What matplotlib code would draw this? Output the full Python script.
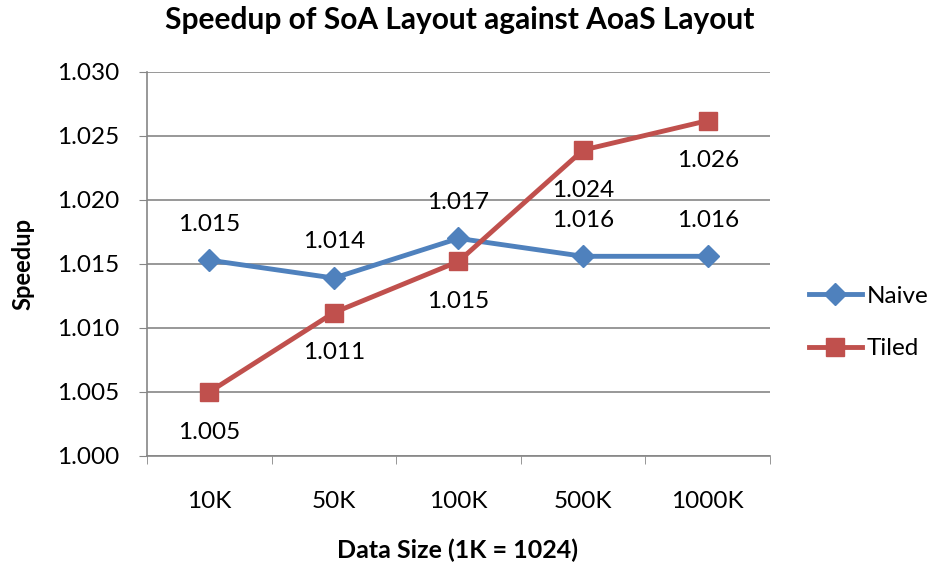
import matplotlib
matplotlib.use("Agg")
import matplotlib.pyplot as plt

plt.rcParams['font.family'] = ['Lato', 'DejaVu Sans']

sizes = ["10K", "50K", "100K", "500K", "1000K"]
naive = [1.0153, 1.0139, 1.0170, 1.0156, 1.0156]
tiled = [1.0050, 1.0112, 1.0152, 1.0239, 1.0262]
y_ticks = [1.000, 1.005, 1.010, 1.015, 1.020, 1.025, 1.030]

blue = "#4F81BD"
red = "#C0504D"
grid_col = "#868686"

fig = plt.figure(figsize=(9.38, 5.69), dpi=100)
ax = fig.add_axes([0.1567, 0.1986, 0.6642, 0.6749])

x = list(range(len(sizes)))
ax.plot(x, naive, color=blue, lw=3.5, marker="D", ms=11, label="Naive")
ax.plot(x, tiled, color=red, lw=3.5, marker="s", ms=13, label="Tiled")

# etiquetas dos pontos
for i in x:
    ax.annotate(f"{naive[i]:.3f}", (i, naive[i]), xytext=(0, 26), textcoords="offset points",
                ha="center", va="center", fontsize=17.5)
    ax.annotate(f"{tiled[i]:.3f}", (i, tiled[i]), xytext=(0, -29), textcoords="offset points",
                ha="center", va="center", fontsize=17.5)

ax.set_xlim(-0.5, 4.5)
ax.set_ylim(1.000, 1.030)
ax.set_yticks(y_ticks)
ax.set_yticklabels([f"{v:.3f}" for v in y_ticks])
ax.set_xticks(x)
ax.set_xticklabels(sizes)
ax.set_xticks([i - 0.5 for i in range(len(sizes) + 1)], minor=True)
ax.tick_params(axis="x", which="major", length=0, pad=25, labelsize=17.5)
ax.tick_params(axis="x", which="minor", length=6, color=grid_col)
ax.tick_params(axis="y", length=6, color=grid_col, labelsize=17.5, pad=14)

ax.grid(axis="y", color=grid_col, lw=1.2)
ax.set_axisbelow(True)
for s in ["top", "right"]:
    ax.spines[s].set_visible(False)
ax.spines["left"].set_color(grid_col)
ax.spines["bottom"].set_color(grid_col)
ax.spines["left"].set_linewidth(1.2)
ax.spines["bottom"].set_linewidth(1.2)

fig.text(0.49, 0.965, "Speedup of SoA Layout against AoaS Layout", fontsize=21.5,
         fontweight="bold", ha="center", va="center")
fig.text(0.024, 0.537, "Speedup", fontsize=17, fontweight="bold", rotation=90,
         ha="center", va="center")
fig.text(0.488, 0.032, "Data Size (1K = 1024)", fontsize=18, fontweight="bold",
         ha="center", va="center")

fig.legend(loc="center left", bbox_to_anchor=(0.862, 0.433), frameon=False, fontsize=17.5,
           handlelength=2.2, labelspacing=1.3, handletextpad=0.2, borderaxespad=0,
           borderpad=0)

fig.savefig("out.png", dpi=100)
